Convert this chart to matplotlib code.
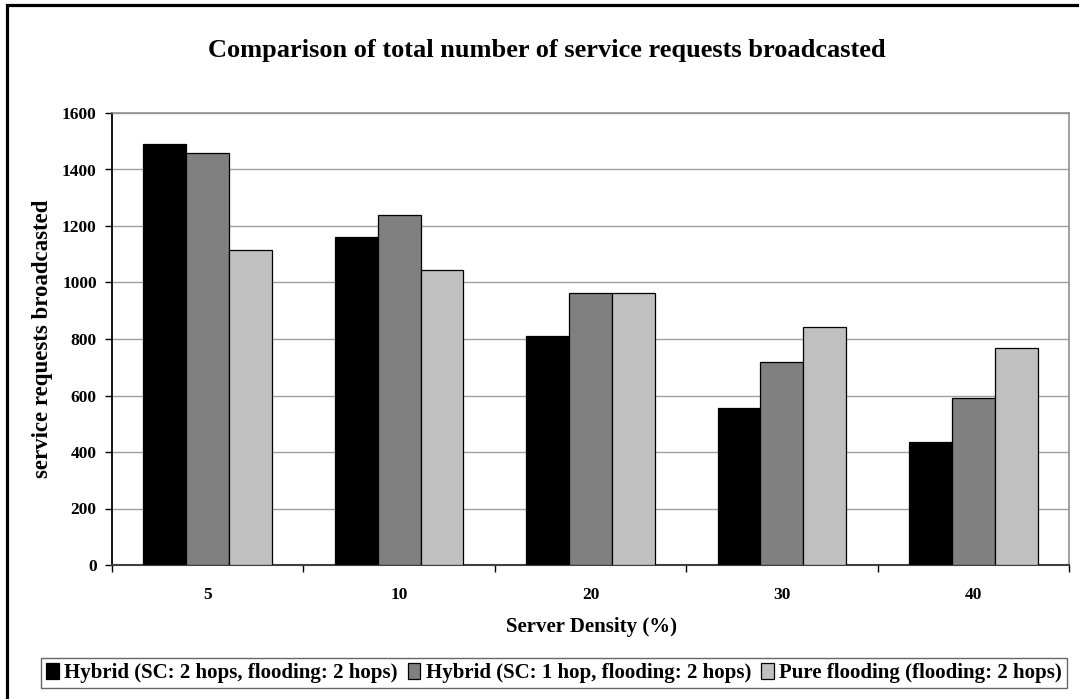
import matplotlib
matplotlib.use("Agg")
import matplotlib.pyplot as plt
import numpy as np
from matplotlib.patches import Rectangle
from matplotlib.ticker import FixedLocator

categories = ["5", "10", "20", "30", "40"]
series_names = [
    "Hybrid (SC: 2 hops, flooding: 2 hops)",
    "Hybrid (SC: 1 hop, flooding: 2 hops)",
    "Pure flooding (flooding: 2 hops)",
]
hybrid_2hop = [1490, 1162, 812, 556, 436]
hybrid_1hop = [1459, 1239, 964, 719, 590]
pure_flooding = [1116, 1044, 964, 841, 769]
yticks = [0, 200, 400, 600, 800, 1000, 1200, 1400, 1600]

colors = ["#000000", "#808080", "#c0c0c0"]
plt.rcParams['font.family'] = ['Liberation Serif', 'DejaVu Serif']
plt.rcParams['font.weight'] = 'bold'

W, H = 1079, 699
fig = plt.figure(figsize=(W / 100, H / 100), dpi=100)
fig.patch.set_facecolor("white")

L, R, T, B = 112, 1069, 113, 565
ax = fig.add_axes([L / W, 1 - B / H, (R - L) / W, (B - T) / H])

x = np.arange(len(categories))
bw = 0.224
data = [hybrid_2hop, hybrid_1hop, pure_flooding]
for i, (vals, c, name) in enumerate(zip(data, colors, series_names)):
    ax.bar(x + (i - 1) * bw, vals, width=bw, color=c, edgecolor="black",
           linewidth=0.9, label=name, zorder=3)

ax.set_xlim(-0.5, len(categories) - 0.5)
ax.set_ylim(0, 1600)
ax.set_yticks(yticks)
ax.set_yticklabels([str(v) for v in yticks], fontsize=12.5, fontweight='bold')
ax.yaxis.grid(True, color="#a0a0a0", linewidth=1.0, zorder=0)
ax.set_axisbelow(True)

ax.set_xticks(x)
ax.set_xticklabels(categories, fontsize=12.5, fontweight='bold')
ax.tick_params(axis='x', which='major', length=0, pad=16)
ax.xaxis.set_minor_locator(FixedLocator(np.arange(-0.5, len(categories), 1.0)))
ax.tick_params(axis='x', which='minor', length=5, width=1.0, direction='out', color='black')
ax.tick_params(axis='y', which='major', length=5, width=1.0, direction='out', pad=6, color='black')

for s in ['top', 'right']:
    ax.spines[s].set_color('#909090')
    ax.spines[s].set_linewidth(1.2)
ax.spines['left'].set_color('black')
ax.spines['left'].set_linewidth(1.3)
ax.spines['bottom'].set_color('#404040')
ax.spines['bottom'].set_linewidth(1.5)

fig.text(547 / W, 1 - 50 / H, "Comparison of total number of service requests broadcasted",
         ha='center', va='center', fontsize=19, fontweight='bold')
fig.text(591 / W, 1 - 627 / H, "Server Density (%)", ha='center', va='center',
         fontsize=15, fontweight='bold')
fig.text(43 / W, 1 - 339 / H, "service requests broadcasted", ha='center', va='center',
         rotation=90, fontsize=16.5, fontweight='bold')

leg = fig.legend(loc='center', bbox_to_anchor=(554 / W, 1 - 673 / H), ncol=3,
                 frameon=True, fancybox=False, fontsize=15,
                 handlelength=0.6, handleheight=0.85, handletextpad=0.25,
                 columnspacing=0.5, borderpad=0.25, borderaxespad=0)
leg.get_frame().set_edgecolor('#404040')
leg.get_frame().set_linewidth(1.0)
for t in leg.get_texts():
    t.set_fontweight('bold')

# outer chart frame (left and top edges visible)
fig.patches.append(Rectangle((6.5 / W, -0.1), 1.2, 1 - 5.5 / H + 0.1,
                             transform=fig.transFigure, fill=False,
                             edgecolor='black', linewidth=2.3))

fig.savefig("out.png", dpi=100)
